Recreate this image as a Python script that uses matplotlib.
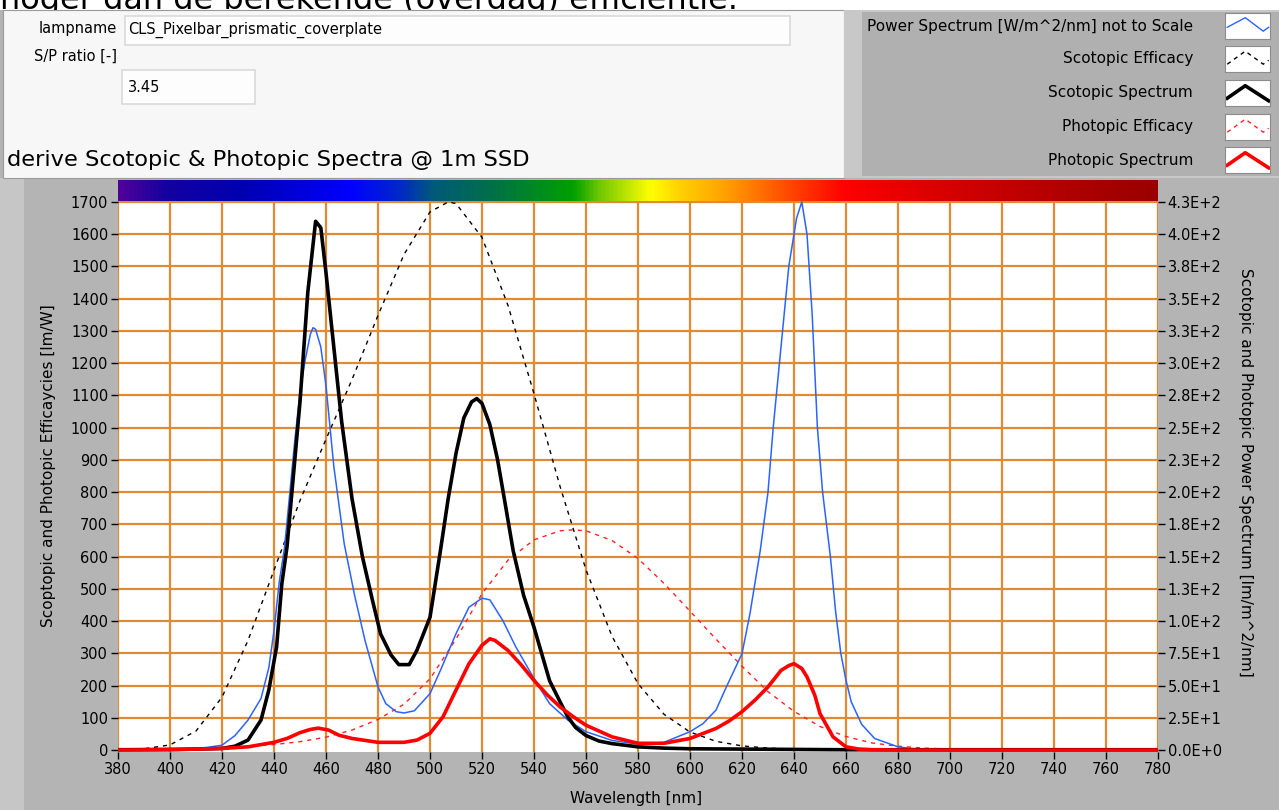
import matplotlib
matplotlib.use("Agg")
import matplotlib.pyplot as plt
from matplotlib.patches import Rectangle
from matplotlib.colors import LinearSegmentedColormap
from matplotlib.ticker import FuncFormatter
from decimal import Decimal, ROUND_HALF_UP
import numpy as np

W, H = 1279, 810

# ---------------- data ----------------
wl_power = [380, 390, 400, 410, 415, 420, 425, 430, 435, 438, 440, 442, 444, 446, 448, 450,
            452, 454, 455, 456, 458, 460, 463, 467, 471, 475, 480, 483, 487, 490, 494, 500,
            504, 510, 515, 520, 523, 528, 533, 540, 546, 553, 560, 570, 580, 590, 600, 605,
            610, 614, 620, 623, 627, 630, 632, 635, 638, 641, 643, 645, 647, 649, 651, 654,
            656, 658, 660, 662, 666, 671, 680, 685, 690, 700, 780]
power = [2, 2, 3, 5, 9, 15, 45, 93, 160, 255, 370, 520, 625, 790, 960, 1110,
         1210, 1290, 1310, 1305, 1250, 1130, 880, 640, 480, 340, 196, 144, 119, 115, 122, 175,
         247, 361, 443, 471, 466, 402, 320, 222, 144, 93, 57, 30, 18, 24, 57, 82,
         124, 196, 299, 420, 618, 800, 1000, 1250, 1500, 1650, 1700, 1600, 1350, 1000, 800, 600,
         430, 300, 216, 150, 80, 36, 10, 5, 3, 1, 1]

wl_scot = [380, 400, 410, 420, 425, 430, 435, 438, 441, 443, 445, 448, 450, 453, 456, 458,
           460, 463, 466, 470, 474, 478, 481, 485, 488, 492, 495, 500, 504, 507, 510, 513,
           516, 518, 520, 523, 526, 529, 532, 536, 540, 546, 550, 553, 556, 560, 565, 570,
           580, 590, 600, 620, 640, 660, 700, 780]
scot_spec = [1, 2, 3, 5, 12, 31, 93, 186, 320, 515, 630, 900, 1080, 1420, 1640, 1620,
             1480, 1250, 1020, 780, 600, 460, 360, 295, 265, 265, 310, 412, 618, 780, 920, 1030,
             1080, 1090, 1075, 1010, 900, 760, 618, 480, 381, 215, 150, 103, 70, 45, 28, 20,
             10, 6, 4, 3, 2, 1, 1, 1]

wl_phot = [380, 400, 420, 430, 440, 445, 450, 454, 457, 461, 465, 470, 475, 480, 490, 495,
           500, 505, 510, 515, 520, 523, 525, 530, 535, 540, 545, 550, 555, 560, 570, 580,
           590, 600, 610, 615, 620, 625, 630, 635, 638, 640, 643, 645, 648, 650, 653, 655,
           660, 665, 670, 680, 780]
phot_spec = [0, 1, 5, 10, 24, 36, 54, 64, 68, 62, 46, 36, 30, 24, 24, 31,
             52, 103, 186, 268, 325, 345, 340, 309, 265, 216, 172, 134, 104, 77, 41, 21,
             21, 36, 67, 90, 119, 155, 196, 247, 262, 268, 253, 227, 170, 113, 70, 41,
             10, 3, 1, 0, 0]

wl_scot_eff = [380, 390, 400, 410, 420, 430, 440, 450, 460, 470, 480, 490, 500, 507, 510, 520,
               530, 540, 550, 560, 570, 580, 590, 600, 610, 620, 630, 640, 650, 660, 680, 700, 780]
scot_eff = [1, 4, 16, 59, 164, 340, 558, 774, 964, 1149, 1348, 1537, 1669, 1700, 1695, 1590,
            1379, 1105, 818, 559, 353, 206, 111, 56, 27, 13, 6, 3, 1, 1, 0, 0, 0]

wl_phot_eff = [380, 390, 400, 410, 420, 430, 440, 450, 460, 470, 480, 490, 500, 510, 520, 530,
               540, 550, 555, 560, 570, 580, 590, 600, 610, 620, 630, 640, 650, 660, 670, 680,
               690, 700, 720, 780]
phot_eff = [0, 0, 1, 3, 8, 12, 17, 26, 40, 62, 95, 142, 221, 344, 485, 589,
            652, 680, 683, 680, 650, 594, 517, 431, 344, 260, 181, 120, 73, 42, 22, 12,
            6, 3, 1, 0]

x_ticks = list(range(380, 781, 20))
left_ticks = list(range(0, 1701, 100))
right_ticks = list(range(0, 426, 25))

legend_labels = ["Power Spectrum [W/m^2/nm] not to Scale", "Scotopic Efficacy",
                 "Scotopic Spectrum", "Photopic Efficacy", "Photopic Spectrum"]

lampname = "CLS_Pixelbar_prismatic_coverplate"
sp_ratio = "3.45"

# ---------------- helpers ----------------
def fx(x):
    return x / W

def fy(y):
    return 1 - y / H

def frect(fig, x0, y0, x1, y1, color, z=0, ec="none", lw=0):
    fig.patches.append(Rectangle((fx(x0), fy(y1)), fx(x1 - x0), (y1 - y0) / H,
                                 transform=fig.transFigure, facecolor=color,
                                 edgecolor=ec, linewidth=lw, zorder=z))

def right_fmt(v, pos):
    if v <= 0:
        return "0.0E+0"
    e = int(np.floor(np.log10(v)))
    m = Decimal(str(round(v / 10 ** e, 6))).quantize(Decimal("0.1"), rounding=ROUND_HALF_UP)
    return f"{m}E+{e}"

# ---------------- figure ----------------
fig = plt.figure(figsize=(W / 100, H / 100), dpi=100)
fig.patch.set_facecolor("white")

# text of the page above the screenshot, cut off by the top edge
fig.text(fx(0), fy(9), "hoger dan de berekende (overdag) efficientie.", fontsize=23,
         va="baseline", ha="left", zorder=0)
frect(fig, 0, 10, W, H, "#b4b4b4", z=0.5)
frect(fig, 0, 178, 24, H, "#c6c6c6", z=0.6)

# top-left panel
frect(fig, 3, 10, 844, 178, "#f7f7f7", z=1, ec="#9a9a9a", lw=0.8)
frect(fig, 125, 16, 790, 45, "#fdfdfd", z=2, ec="#dadada", lw=1.2)
frect(fig, 122, 70, 255, 104, "#fdfdfd", z=2, ec="#dadada", lw=1.2)
fig.text(fx(117), fy(29), "lampname", fontsize=10.5, ha="right", va="center", zorder=3)
fig.text(fx(128), fy(30), lampname, fontsize=10.5, ha="left", va="center", zorder=3)
fig.text(fx(117), fy(56), "S/P ratio [-]", fontsize=10.5, ha="right", va="center", zorder=3)
fig.text(fx(128), fy(88), sp_ratio, fontsize=10.5, ha="left", va="center", zorder=3)
fig.text(fx(7), fy(160), "derive Scotopic & Photopic Spectra @ 1m SSD", fontsize=16.2,
         ha="left", va="center", zorder=3)

# legend panel
frect(fig, 844, 10, W, 178, "#c8c8c8", z=1)
frect(fig, 862, 12, W, 176, "#b0b0b0", z=1.1)

styles = [
    dict(color="#2b63ff", lw=1.0, ls="-"),
    dict(color="black", lw=1.0, ls=(0, (3, 3))),
    dict(color="black", lw=2.6, ls="-"),
    dict(color="#ff2020", lw=1.0, ls=(0, (3, 3))),
    dict(color="#ff0000", lw=2.6, ls="-"),
]
shapes = [
    ([0.05, 0.45, 0.85, 0.97], [0.45, 0.82, 0.3, 0.45]),
    ([0.05, 0.45, 0.85, 0.97], [0.3, 0.8, 0.3, 0.45]),
    ([0.05, 0.45, 0.97], [0.3, 0.78, 0.2]),
    ([0.05, 0.45, 0.85, 0.97], [0.3, 0.8, 0.3, 0.45]),
    ([0.05, 0.45, 0.97], [0.3, 0.78, 0.2]),
]
row_y = [26, 59, 93, 127, 160]
for lab, st, shp, ry in zip(legend_labels, styles, shapes, row_y):
    fig.text(fx(1193), fy(ry), lab, fontsize=11, ha="right", va="center", zorder=3)
    sax = fig.add_axes([fx(1225), fy(ry + 13), fx(45), 26 / H])
    sax.set_zorder(5)
    sax.set_facecolor("white")
    sax.set_xlim(0, 1)
    sax.set_ylim(0, 1)
    sax.set_xticks([])
    sax.set_yticks([])
    for s in sax.spines.values():
        s.set_color("#8c8c8c")
        s.set_linewidth(0.8)
    sax.plot(shp[0], shp[1], color=st["color"], lw=st["lw"], ls=st["ls"])

# ---------------- main plot ----------------
ax = fig.add_axes([fx(118), fy(752), fx(1158 - 118), (752 - 180) / H])
ax.set_zorder(2)
ax.set_facecolor("white")

grid_c = "#e08a35"
for xv in x_ticks:
    ax.axvline(xv, color=grid_c, lw=1.6, zorder=1)
for yv in left_ticks[1:]:
    ax.axhline(yv, color=grid_c, lw=1.6, zorder=1)

ax.plot(wl_scot_eff, scot_eff, color="black", lw=1.0, ls=(0, (3, 3.5)), zorder=3)
ax.plot(wl_phot_eff, phot_eff, color="#ff2020", lw=1.0, ls=(0, (3, 3.5)), zorder=3)
ax.plot(wl_power, power, color="#2b63ff", lw=1.1, zorder=4)
ax.plot(wl_scot, scot_spec, color="black", lw=2.6, zorder=5)
ax.plot(wl_phot, phot_spec, color="#ff0000", lw=2.6, zorder=6)

# spectrum colour bar along the top of the graph
rb_stops = [(0.0, "#50009a"), (0.045, "#1400a0"), (0.117, "#0000b0"), (0.223, "#0000ff"),
            (0.27, "#0028c8"), (0.303, "#005a78"), (0.36, "#007048"), (0.4375, "#00a000"),
            (0.463, "#70c800"), (0.512, "#ffff00"), (0.54, "#ffd200"), (0.585, "#ffa000"),
            (0.64, "#ff5000"), (0.699, "#ff0000"), (0.795, "#d80000"), (0.887, "#b80000"),
            (0.971, "#a00000"), (1.0, "#9a0000")]
rb = LinearSegmentedColormap.from_list("rb", rb_stops)
ax.imshow(np.linspace(0, 1, 512)[None, :], cmap=rb, aspect="auto",
          extent=(380, 780, 1702, 1768), zorder=10, interpolation="bilinear")
ax.set_xlim(380, 780)
ax.set_ylim(-6, 1768)

for s in ax.spines.values():
    s.set_visible(False)

ax.set_xticks(x_ticks)
ax.set_yticks(left_ticks)
ax.tick_params(axis="both", direction="out", length=5, width=1, color="black",
               labelsize=10.5, pad=2)

ax2 = ax.secondary_yaxis("right", functions=(lambda y: y / 4, lambda y: y * 4))
ax2.set_yticks(right_ticks)
ax2.yaxis.set_major_formatter(FuncFormatter(right_fmt))
ax2.tick_params(direction="out", length=5, width=1, labelsize=10.5, pad=2)
ax2.spines["right"].set_visible(False)

fig.text(fx(636), fy(798), "Wavelength [nm]", fontsize=11, ha="center", va="center", zorder=3)
fig.text(fx(48), fy(466), "Scoptopic and Photopic Efficaycies [lm/W]", fontsize=11,
         rotation=90, ha="center", va="center", zorder=3)
fig.text(fx(1245), fy(472), "Scotopic and Photopic Power Spectrum [lm/m^2/nm]", fontsize=11,
         rotation=270, ha="center", va="center", zorder=3)

fig.savefig("out.png", dpi=100, facecolor=fig.get_facecolor())
